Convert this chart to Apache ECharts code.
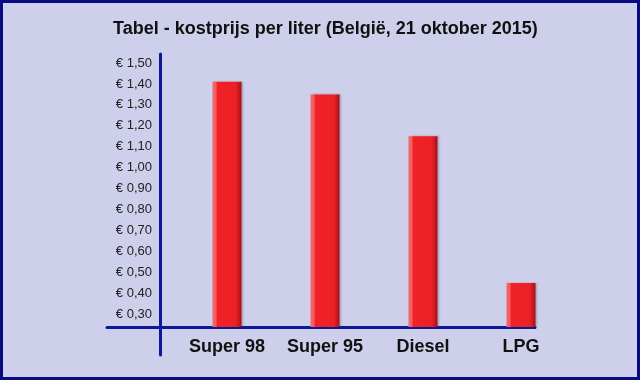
<!DOCTYPE html>
<html>
<head>
<meta charset="utf-8">
<script src="https://cdn.jsdelivr.net/npm/echarts@6/dist/echarts.min.js"></script>
<style>
html,body{margin:0;padding:0;background:#cdcfeb;}
#chart{width:640px;height:380px;}
</style>
</head>
<body>
<div id="chart"></div>
<script>
var categories = ['Super 98', 'Super 95', 'Diesel', 'LPG'];
var prices = [1.41, 1.35, 1.15, 0.45];
var yTicks = [0.3, 0.4, 0.5, 0.6, 0.7, 0.8, 0.9, 1.0, 1.1, 1.2, 1.3, 1.4, 1.5];
var titleText = 'Tabel - kostprijs per liter (België, 21 oktober 2015)';

var font = '"Liberation Sans", Arial, sans-serif';
var axisBlue = '#0c189a';

var chart = echarts.init(document.getElementById('chart'));
chart.setOption({
  backgroundColor: '#cdcfeb',
  animation: false,
  title: {
    text: titleText,
    left: 113,
    top: 20,
    padding: 0,
    textStyle: { fontFamily: font, fontSize: 18, fontWeight: 'bold', color: '#111' }
  },
  graphic: [{
    type: 'rect',
    shape: { x: 1.5, y: 1.5, width: 637, height: 377 },
    style: { fill: 'none', stroke: '#0a0a80', lineWidth: 3 },
    silent: true
  }],
  grid: [
    { left: 178, right: 70, top: 63, bottom: 53 },
    { left: 107, right: 105, top: 54, bottom: 25 }
  ],
  xAxis: [
    {
      type: 'category', gridIndex: 0, data: categories,
      axisLine: { show: false }, axisTick: { show: false },
      axisLabel: { interval: 0, fontFamily: font, fontSize: 18, fontWeight: 'bold', color: '#111', margin: 11 }
    },
    {
      type: 'value', gridIndex: 1, min: 0, max: 1, offset: -28,
      axisLine: { show: true, lineStyle: { color: axisBlue, width: 3, cap: 'round' } },
      axisTick: { show: false }, axisLabel: { show: false }, splitLine: { show: false }
    }
  ],
  yAxis: [
    {
      type: 'value', gridIndex: 0, min: 0.24, max: 1.5, offset: 18,
      axisLine: { show: false }, axisTick: { show: false }, splitLine: { show: false },
      axisLabel: {
        customValues: yTicks,
        fontFamily: font, fontSize: 13, color: '#222', margin: 8,
        formatter: function (v) { return '€ ' + v.toFixed(2).replace('.', ','); }
      }
    },
    {
      type: 'value', gridIndex: 1, min: 0, max: 1, offset: -53,
      axisLine: { show: true, lineStyle: { color: axisBlue, width: 3, cap: 'round' } },
      axisTick: { show: false }, axisLabel: { show: false }, splitLine: { show: false }
    }
  ],
  series: [{
    type: 'bar',
    xAxisIndex: 0, yAxisIndex: 0,
    data: prices,
    barWidth: 29,
    itemStyle: {
      shadowColor: 'rgba(90,0,0,0.25)',
      shadowBlur: 2,
      shadowOffsetX: 1,
      color: {
        type: 'linear', x: 0, y: 0, x2: 1, y2: 0,
        colorStops: [
          { offset: 0, color: '#f46a6d' },
          { offset: 0.12, color: '#f15a5e' },
          { offset: 0.17, color: '#ee2227' },
          { offset: 0.8, color: '#ec2126' },
          { offset: 0.9, color: '#cc1a1f' },
          { offset: 1, color: '#9c1217' }
        ]
      }
    }
  }]
});
</script>
</body>
</html>
